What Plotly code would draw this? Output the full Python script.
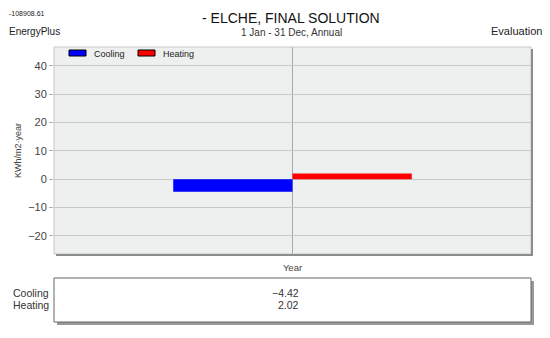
import plotly.graph_objects as go

# ---- data ----
categories = ["Year"]
series_names = ["Cooling", "Heating"]
cooling_values = [-4.42]
heating_values = [2.02]
series_colors = ["#0000ff", "#ff0000"]
y_ticks = [-20, -10, 0, 10, 20, 30, 40]
y_title = "KWh/m2\u00b7year"

W_PX, H_PX = 550, 338
L, R, T, B = 54, 531, 47, 254  # plot area in pixels
PW, PH = R - L, B - T


def px(x):
    return (x - L) / PW


def py(y):
    return (B - y) / PH


FONT = "Liberation Sans, Arial, sans-serif"

fig = go.Figure()
for name, vals, col in zip(series_names, [cooling_values, heating_values], series_colors):
    fig.add_trace(go.Bar(
        x=categories, y=vals, name=name, showlegend=False,
        marker=dict(color=col, line=dict(width=0)),
    ))

shapes = []
# plot frame
shapes.append(dict(type="rect", xref="paper", yref="paper", x0=0, x1=1, y0=0, y1=1,
                   line=dict(color="#c8c8c8", width=1), layer="above"))
# shadow right + bottom
shapes.append(dict(type="line", xref="paper", yref="paper", x0=px(532), x1=px(532), y0=py(256), y1=py(49),
                   line=dict(color="#8c8c8c", width=2), layer="above"))
shapes.append(dict(type="line", xref="paper", yref="paper", x0=px(56), x1=px(533), y0=py(255), y1=py(255),
                   line=dict(color="#8c8c8c", width=2), layer="above"))

# values table box with shadow
shapes.append(dict(type="rect", xref="paper", yref="paper", x0=px(57), x1=px(534), y0=py(281), y1=py(325),
                   line=dict(width=0), fillcolor="#999999", layer="below"))
shapes.append(dict(type="rect", xref="paper", yref="paper", x0=px(54), x1=px(531), y0=py(278), y1=py(322),
                   line=dict(color="#666666", width=1), fillcolor="white", layer="below"))

annotations = []


def ann(text, x, y, size, xanchor="center", color="#222222", angle=0):
    annotations.append(dict(text=text, x=px(x), y=py(y), xref="paper", yref="paper",
                            xanchor=xanchor, yanchor="middle", showarrow=False, textangle=angle,
                            font=dict(family=FONT, size=size, color=color)))


# legend (custom, wide swatches)
legend_x = [69, 138]
for i, (name, col) in enumerate(zip(series_names, series_colors)):
    x0 = legend_x[i]
    shapes.append(dict(type="rect", xref="paper", yref="paper", x0=px(x0), x1=px(x0 + 17),
                       y0=py(56), y1=py(50), fillcolor=col, line=dict(color="#000000", width=1),
                       layer="above"))
    ann(name, x0 + 23, 54, 9, "left", "#222222")

ann("-108908.61", 7, 14, 7, "left", "#222222")
ann("EnergyPlus", 7, 31, 10, "left", "#222222")
ann("Evaluation", 544, 31, 11, "right", "#222222")
ann("- ELCHE, FINAL SOLUTION", 291, 18, 14, "center", "#111111")
ann("1 Jan - 31 Dec, Annual", 291, 33, 10, "center", "#333333")
ann(y_title, 18, 151, 9, "center", "#444444", angle=-90)

# table contents
table_vals = [cooling_values[0], heating_values[0]]
for i, (name, v) in enumerate(zip(series_names, table_vals)):
    yy = 293 + i * 12
    ann(name, 51, yy, 10.5, "right", "#333333")
    ann(f"{v:.2f}".replace("-", "\u2212"), 301, yy, 10.5, "right", "#333333")

fig.update_layout(
    width=W_PX, height=H_PX,
    margin=dict(l=L, r=W_PX - R, t=T, b=H_PX - B, pad=0),
    paper_bgcolor="white", plot_bgcolor="#edf0ef",
    barmode="group", bargap=0.5, bargroupgap=0,
    font=dict(family=FONT, color="#444444"),
    showlegend=False,
    shapes=shapes, annotations=annotations,
    xaxis=dict(showgrid=True, gridcolor="#a8a8a8", gridwidth=1, showline=False, zeroline=False,
               ticks="outside", ticklen=5, tickcolor="rgba(0,0,0,0)",
               tickfont=dict(size=9.5, color="#444444")),
    yaxis=dict(range=[-26.4, 46.7], tickvals=y_ticks, showgrid=True, gridcolor="#c8c8c8",
               zeroline=False, showline=False, ticks="outside", ticklen=4, tickcolor="#b0b0b0",
               tickfont=dict(size=11, color="#444444")),
)

fig.write_html("out.html", post_script="document.body.style.margin='0px';",
               config={"displayModeBar": False})
